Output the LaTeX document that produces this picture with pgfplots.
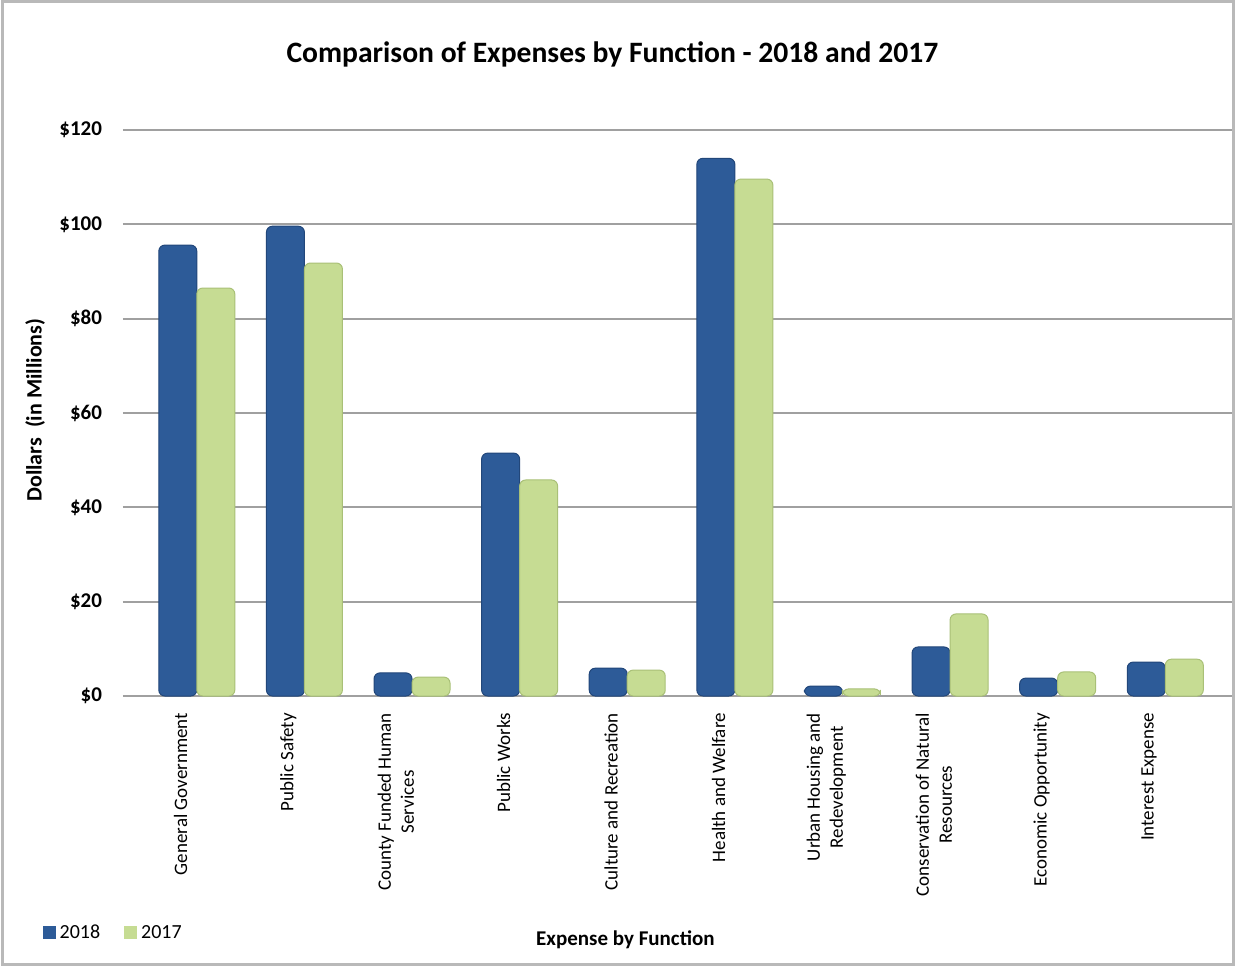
\documentclass[border=0pt]{standalone}
\usepackage{pgfplots}
\pgfplotsset{compat=1.18}
\usepackage{fontspec}
\setmainfont{Carlito}
\definecolor{bmain}{HTML}{2D5B98}
\definecolor{bedge}{HTML}{22477A}
\definecolor{gmain}{HTML}{C6DC93}
\definecolor{gedge}{HTML}{A9C077}
\definecolor{gridgray}{HTML}{A0A0A0}
\begin{document}
\begin{tikzpicture}[x=1pt,y=1pt]
\path[fill=white] (0,0) rectangle (617.5,483);
\draw[gray!55, line width=1.5pt] (1,1) rectangle (616.5,482);
\begin{axis}[
  at={(71.5pt,135pt)}, anchor=south west,
  scale only axis, width=544.5pt, height=283pt,
  xmin=-0.5, xmax=9.62, ymin=0, ymax=120,
  ybar=0pt, bar width=19pt,
  axis line style={draw=none},
  ytick={0,20,40,60,80,100,120},
  yticklabels={\$0,\$20,\$40,\$60,\$80,\$100,\$120},
  ytick pos=left, tick align=outside, major tick length=10pt,
  ytick style={draw=gridgray, line width=1pt},
  ymajorgrids, major grid style={gridgray, line width=1pt},
  xtick={-0.15,0.85,1.85,2.85,3.85,4.85,5.85,6.85,7.85,8.85},
  xticklabels={General Government,Public Safety,County Funded Human\\Services,Public Works,Culture and Recreation,Health and Welfare,Urban Housing and\\Redevelopment,Conservation of Natural\\Resources,Economic Opportunity,Interest Expense},
  xtick style={draw=none},
  xticklabel style={rotate=90, anchor=east, align=center, xshift=5pt, font=\fontsize{9.5}{11.5}\selectfont},
  yticklabel style={xshift=-7pt, font=\bfseries\fontsize{10.5}{12}\selectfont},
  title={Comparison of Expenses by Function - 2018 and 2017},
  title style={at={(axis description cs:0.431,1.113)}, anchor=center, font=\bfseries\fontsize{14.8}{17}\selectfont},
  ylabel={Dollars\ \ (in Millions)},
  ylabel style={at={(axis description cs:-0.099,0.505)}, anchor=center, font=\bfseries\fontsize{11}{13}\selectfont},
  xlabel={Expense by Function},
  xlabel style={at={(axis description cs:0.443,-0.431)}, anchor=center, font=\bfseries\fontsize{10.5}{12}\selectfont},
  legend style={at={(axis description cs:-0.098,-0.419)}, anchor=west, draw=none, fill=none, legend columns=2, font=\fontsize{10}{12}\selectfont, /tikz/every even column/.append style={column sep=10pt}},
  legend image code/.code={\fill[#1, sharp corners, draw=none] (0pt,-3pt) rectangle (6.5pt,3.5pt);},
]
\addplot[fill=bmain, draw=bedge, line width=0.5pt, rounded corners=3pt] coordinates {
(0,95.6) (1,99.6) (2,4.9) (3,51.5) (4,5.9) (5,114) (6,2.1) (7,10.4) (8,3.8) (9,7.2)};
\addplot[fill=gmain, draw=gedge, line width=0.5pt, rounded corners=3pt] coordinates {
(0,86.5) (1,91.8) (2,4.0) (3,45.8) (4,5.5) (5,109.6) (6,1.5) (7,17.4) (8,5.1) (9,7.8)};
\legend{2018,2017}
\end{axis}
\end{tikzpicture}
\end{document}
